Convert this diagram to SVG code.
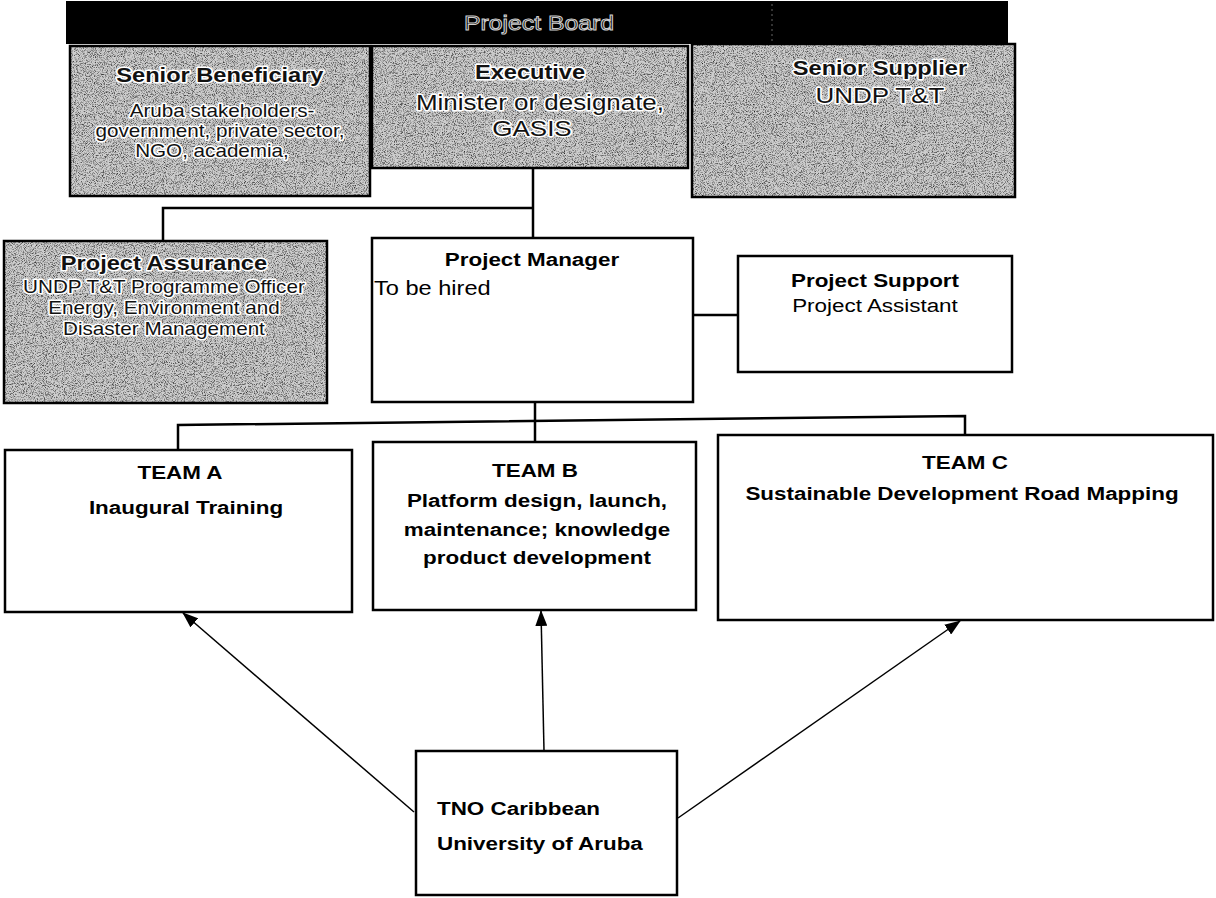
<svg xmlns="http://www.w3.org/2000/svg" width="1216" height="898" viewBox="0 0 1216 898">
<style>
.box{stroke:#000;stroke-width:2.5}
.gray{fill:#cdcdcd}
.white{fill:#fff}
.t{font-family:"Liberation Sans",Arial,sans-serif;fill:#000;transform-box:fill-box;transform-origin:center;transform:scaleX(1.18)}
.l{transform-origin:left center}
.b{font-weight:bold}
.halo{fill:#111;stroke:#fff;stroke-width:3;paint-order:stroke;stroke-linejoin:round}
.conn{stroke:#000;stroke-width:2.5;fill:none}
.arr{stroke:#000;stroke-width:1.5;fill:none;marker-end:url(#ah)}
</style>
<defs>
<filter id="speckle" x="0" y="0" width="1" height="1">
<feTurbulence type="fractalNoise" baseFrequency="1.1" numOctaves="2" seed="5"/>
<feColorMatrix type="matrix" values="0 0 0 0 0  0 0 0 0 0  0 0 0 0 0  1.9 0 0 0 -0.85"/>
<feComposite in2="SourceGraphic" operator="in"/>
</filter>
<marker id="ah" markerWidth="16" markerHeight="12" refX="15" refY="6" orient="auto" markerUnits="userSpaceOnUse">
<path d="M0,0 L16,6 L0,12 Z" fill="#000"/>
</marker>
</defs>

<g id="project-board">
<rect x="66" y="1" width="942" height="43" fill="#000"/>
<line x1="772" y1="4" x2="772" y2="42" stroke="#666" stroke-width="1" stroke-dasharray="2 3"/>
<text class="t" x="539" y="30" font-size="21" text-anchor="middle" fill="#000" stroke="#ccc" stroke-width="1">Project Board</text>
</g>

<g id="senior-beneficiary">
<rect class="box gray" x="70" y="46" width="300" height="150"/>
<rect x="70" y="46" width="300" height="150" fill="#000" filter="url(#speckle)"/>
<text class="t b halo" x="220" y="82" font-size="20" text-anchor="middle">Senior Beneficiary</text>
<text class="t halo" x="222" y="117" font-size="17.5" text-anchor="middle">Aruba stakeholders-</text>
<text class="t halo" x="220" y="137" font-size="17.5" text-anchor="middle">government, private sector,</text>
<text class="t halo" x="212" y="157" font-size="17.5" text-anchor="middle">NGO, academia,</text>
</g>

<g id="executive">
<rect class="box gray" x="372" y="46" width="316" height="122"/>
<rect x="372" y="46" width="316" height="122" fill="#000" filter="url(#speckle)"/>
<text class="t b halo" x="530" y="79" font-size="20" text-anchor="middle">Executive</text>
<text class="t halo" x="540" y="110" font-size="22" text-anchor="middle">Minister or designate,</text>
<text class="t halo" x="532" y="136" font-size="22" text-anchor="middle">GASIS</text>
</g>

<g id="senior-supplier">
<rect class="box gray" x="692" y="44" width="323" height="153"/>
<rect x="692" y="44" width="323" height="153" fill="#000" filter="url(#speckle)"/>
<text class="t b halo" x="880" y="75" font-size="20" text-anchor="middle">Senior Supplier</text>
<text class="t halo" x="880" y="103" font-size="22" text-anchor="middle">UNDP T&amp;T</text>
</g>

<g id="project-assurance">
<rect class="box gray" x="4" y="241" width="323" height="162"/>
<rect x="4" y="241" width="323" height="162" fill="#000" filter="url(#speckle)"/>
<text class="t b halo" x="164" y="270" font-size="20" text-anchor="middle">Project Assurance</text>
<text class="t halo" x="164" y="293" font-size="17.5" text-anchor="middle">UNDP T&amp;T Programme Officer</text>
<text class="t halo" x="164" y="314" font-size="17.5" text-anchor="middle">Energy, Environment and</text>
<text class="t halo" x="164" y="335" font-size="17.5" text-anchor="middle">Disaster Management</text>
</g>

<g id="project-manager">
<rect class="box white" x="372" y="238" width="321" height="164"/>
<text class="t b" x="532" y="266" font-size="19" text-anchor="middle">Project Manager</text>
<text class="t l" x="374" y="295" font-size="20">To be hired</text>
</g>

<g id="project-support">
<rect class="box white" x="738" y="256" width="274" height="116"/>
<text class="t b" x="875" y="287" font-size="19" text-anchor="middle">Project Support</text>
<text class="t" x="875" y="312" font-size="19" text-anchor="middle">Project Assistant</text>
</g>

<g id="team-a">
<rect class="box white" x="5" y="450" width="347" height="162"/>
<text class="t b" x="180" y="479" font-size="19" text-anchor="middle">TEAM A</text>
<text class="t b" x="186" y="514" font-size="19" text-anchor="middle">Inaugural Training</text>
</g>

<g id="team-b">
<rect class="box white" x="373" y="442" width="323" height="168"/>
<text class="t b" x="535" y="477" font-size="19" text-anchor="middle">TEAM B</text>
<text class="t b" x="537" y="507" font-size="19" text-anchor="middle">Platform design, launch,</text>
<text class="t b" x="537" y="536" font-size="19" text-anchor="middle">maintenance; knowledge</text>
<text class="t b" x="537" y="564" font-size="19" text-anchor="middle">product development</text>
</g>

<g id="team-c">
<rect class="box white" x="718" y="435" width="495" height="185"/>
<text class="t b" x="965" y="469" font-size="19" text-anchor="middle">TEAM C</text>
<text class="t b" x="962" y="500" font-size="19" text-anchor="middle">Sustainable Development Road Mapping</text>
</g>

<g id="tno">
<rect class="box white" x="416" y="751" width="261" height="144"/>
<text class="t b l" x="437" y="815" font-size="19">TNO Caribbean</text>
<text class="t b l" x="437" y="850" font-size="19">University of Aruba</text>
</g>

<g id="connectors">
<path class="conn" d="M533,168 V238"/>
<path class="conn" d="M533,208 H163 V241"/>
<path class="conn" d="M693,315 H738"/>
<path class="conn" d="M535,402 V442"/>
<path class="conn" d="M178,450 V425 L965,416 V435"/>
<path class="arr" d="M414,812 L183,613"/>
<path class="arr" d="M544,751 L541,611"/>
<path class="arr" d="M678,818 L960,621"/>
</g>
</svg>
